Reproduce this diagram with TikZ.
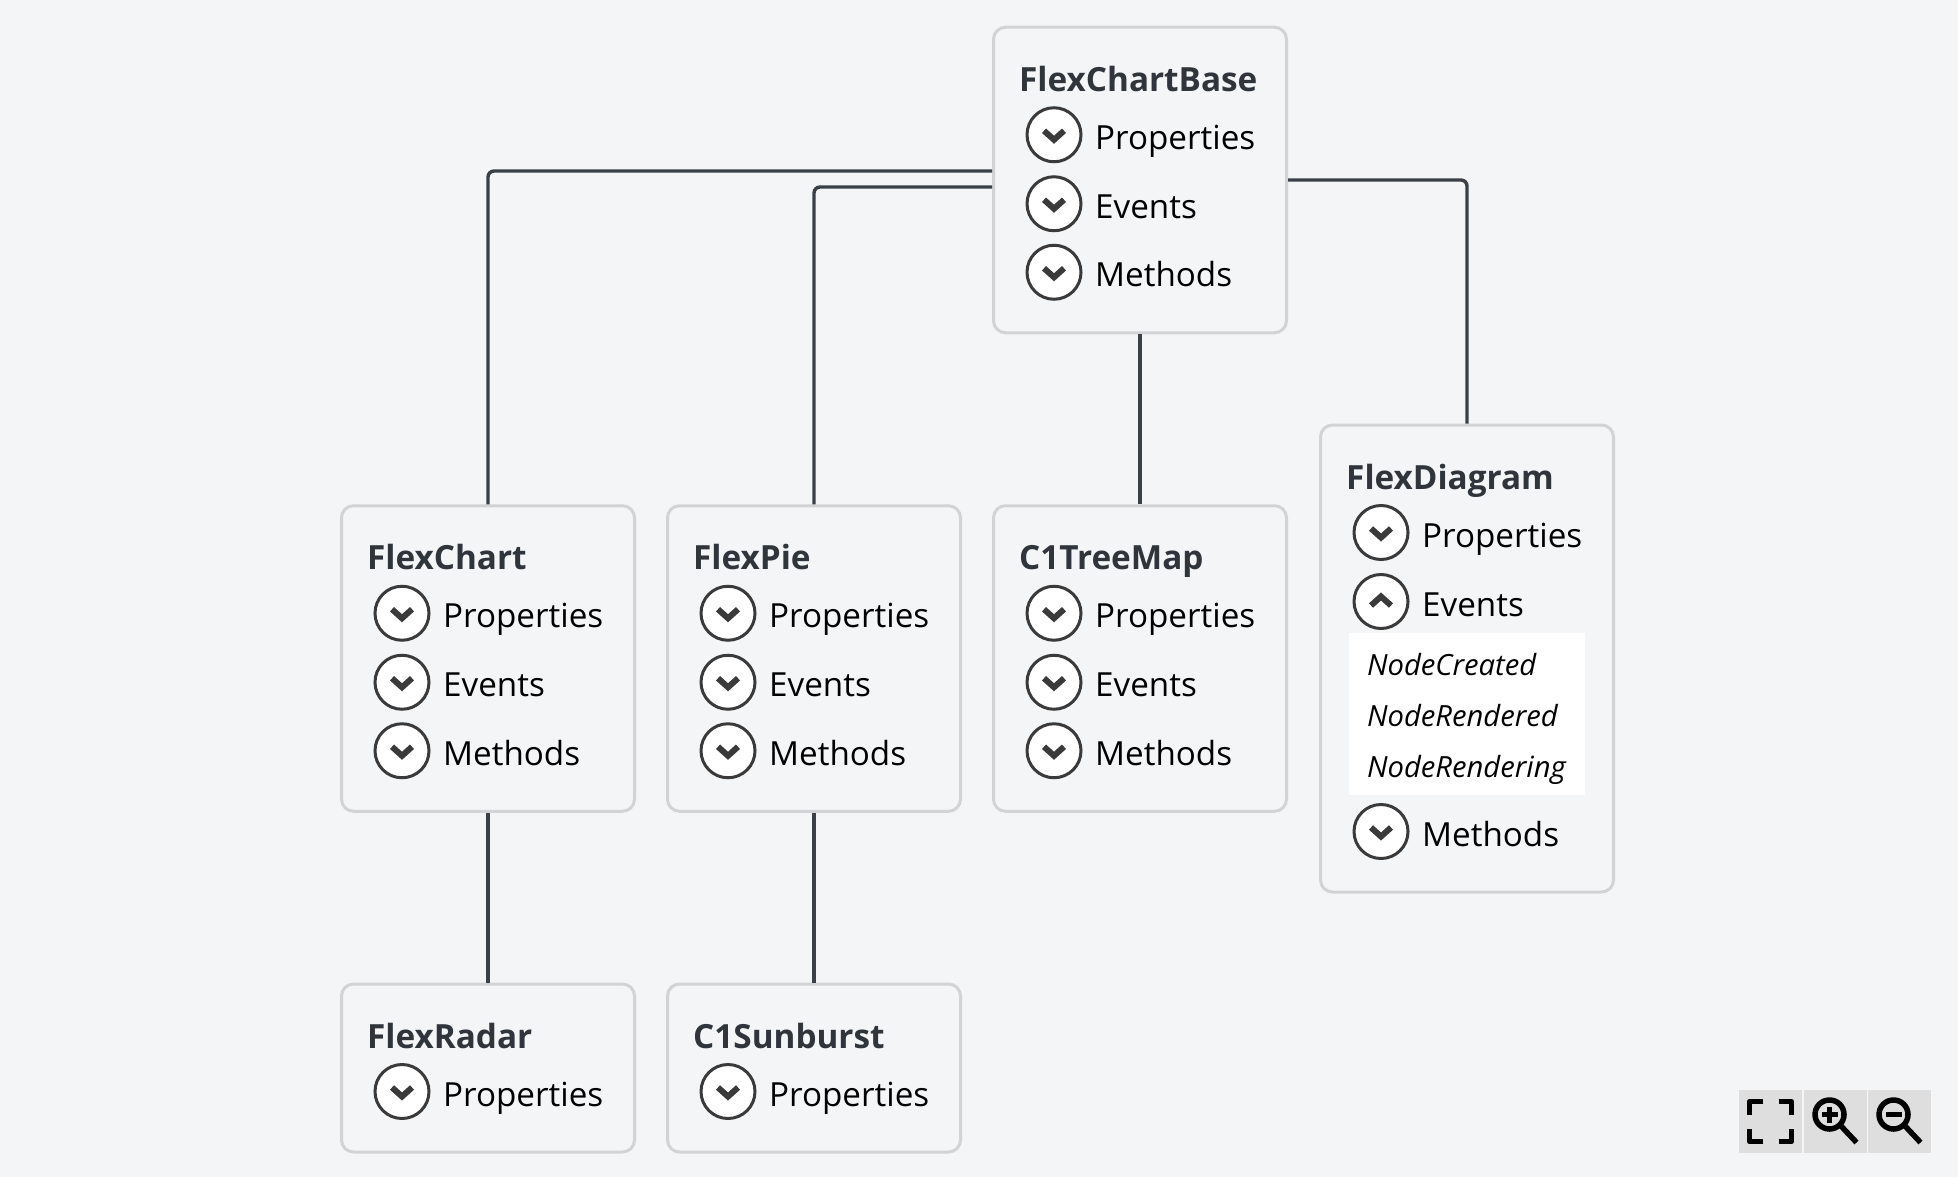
\documentclass[tikz,border=0pt]{standalone}
\usepackage{fontspec}
\setmainfont{Open Sans}
\usetikzlibrary{calc}
\definecolor{pagebg}{HTML}{F4F5F7}
\definecolor{boxline}{HTML}{D2D3D5}
\definecolor{linkline}{HTML}{3A4045}
\definecolor{titletext}{HTML}{2F353B}
\definecolor{toggleline}{HTML}{3A3A3A}
\definecolor{tilebg}{HTML}{DEDEDE}
\newcommand{\memberrow}[4]{
    \node[toggle=#4] (#1-#2) at ($(#1.north west)+(62,#3+1)$) {};
    \node[member] (#1-#2-text) at ($(#1.north west)+(103,#3+15.5)$) {#2};
}
\newcommand{\titlerow}[2]{
    \node[boxtitle] (#1-title) at ($(#1.north west)+(27,65.5)$) {#2};
}
\begin{document}
\begin{tikzpicture}
[
    x=1pt, y=-1pt,
    classbox/.style={shape=rectangle, rounded corners=12pt, draw=boxline, fill=pagebg, line width=3pt, minimum width=293pt, inner sep=0pt},
    tallbox/.style={classbox, minimum height=305.5pt},
    shortbox/.style={classbox, minimum height=168pt},
    boxtitle/.style={anchor=base west, inner sep=0pt, text=titletext, font=\fontsize{33.3}{36}\selectfont\bfseries},
    member/.style={anchor=base west, inner sep=0pt, text=black, font=\fontsize{33.2}{36}\selectfont},
    eventname/.style={anchor=base west, inner sep=0pt, text=black, font=\fontsize{29.2}{32}\selectfont\itshape},
    chevron/.style={draw=toggleline, line width=6pt},
    toggle/.style={shape=circle, minimum size=54pt, inner sep=0pt, draw=toggleline, line width=3pt, fill=white,
        path picture={\draw[chevron] ($(path picture bounding box.center)+(-10,-4*#1)$) -- ++(10,9*#1) -- ++(10,-9*#1);}},
    link/.style={draw=linkline, line width=3.4pt, rounded corners=6pt},
    tile/.style={shape=rectangle, fill=tilebg, minimum size=63pt, inner sep=0pt},
    glyph/.style={draw=black, line width=5.5pt, line join=round},
]
\fill[pagebg] (0,0) rectangle (1958,1177);
\useasboundingbox (0,0) rectangle (1958,1177);

\node[tallbox] (base) at (1140,180) {};
\node[tallbox] (chart) at (488,658.5) {};
\node[tallbox] (pie) at (814,658.5) {};
\node[tallbox] (treemap) at (1140,658.5) {};
\node[classbox, minimum height=467pt] (diagram) at (1467,658.5) {};
\node[shortbox] (radar) at (488,1068) {};
\node[shortbox] (sunburst) at (814,1068) {};

\draw[link] ([yshift=9pt]base.west) -| (chart);
\draw[link] ([yshift=-7pt]base.west) -| (pie);
\draw[link] (base) -- (treemap);
\draw[link] (base.east) -| (diagram);
\draw[link] (chart) -- (radar);
\draw[link] (pie) -- (sunburst);

\titlerow{base}{FlexChartBase}
\titlerow{chart}{FlexChart}
\titlerow{pie}{FlexPie}
\titlerow{treemap}{C1TreeMap}
\titlerow{diagram}{FlexDiagram}
\titlerow{radar}{FlexRadar}
\titlerow{sunburst}{C1Sunburst}

\foreach \classname in {base,chart,pie,treemap}{
    \memberrow{\classname}{Properties}{108}{1}
    \memberrow{\classname}{Events}{177}{1}
    \memberrow{\classname}{Methods}{245.5}{1}
}
\foreach \classname in {radar,sunburst}{
    \memberrow{\classname}{Properties}{108}{1}
}
\memberrow{diagram}{Properties}{108}{1}
\memberrow{diagram}{Events}{177}{-1}
\memberrow{diagram}{Methods}{407}{1}

\node[shape=rectangle, fill=white, minimum width=236pt, minimum height=162pt, inner sep=0pt] (eventlist) at (1467,714) {};
\node[eventname] (created) at ($(eventlist.north west)+(18,42.5)$) {NodeCreated};
\node[eventname] (rendered) at ($(eventlist.north west)+(18,93.5)$) {NodeRendered};
\node[eventname] (rendering) at ($(eventlist.north west)+(18,145)$) {NodeRendering};

\node[tile] (fit) at (1770.5,1121.5) {};
\node[tile] (zoomin) at (1835.5,1121.5) {};
\node[tile] (zoomout) at (1899.5,1121.5) {};
\draw[glyph] ($(fit)+(-8,-20)$) -- ++(-13,0) -- ++(0,13);
\draw[glyph] ($(fit)+(8,-20)$) -- ++(13,0) -- ++(0,13);
\draw[glyph] ($(fit)+(-8,20)$) -- ++(-13,0) -- ++(0,-13);
\draw[glyph] ($(fit)+(8,20)$) -- ++(13,0) -- ++(0,-13);
\foreach \tilename in {zoomin,zoomout}{
    \draw[glyph] ($(\tilename)+(-6,-7)$) circle (14.5pt);
    \draw[glyph] ($(\tilename)+(6,5)$) -- ++(15,16);
    \draw[glyph] ($(\tilename)+(-14,-7)$) -- ++(16,0);
}
\draw[glyph] ($(zoomin)+(-6,-15)$) -- ++(0,16);
\end{tikzpicture}
\end{document}
